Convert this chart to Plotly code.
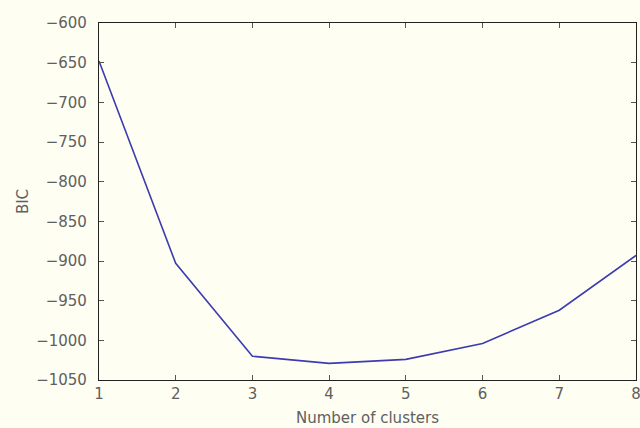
import plotly.graph_objects as go

clusters = [1, 2, 3, 4, 5, 6, 7, 8]
bic = [-648, -903, -1020, -1029, -1024, -1004, -962, -893]
y_ticks = [-600, -650, -700, -750, -800, -850, -900, -950, -1000, -1050]
x_ticks = [1, 2, 3, 4, 5, 6, 7, 8]

bg = "#fefef2"
txt = "#606060"
fig = go.Figure()
fig.add_trace(go.Scatter(x=clusters, y=bic, mode="lines",
                         line=dict(color="#3c3cb0", width=1.6),
                         showlegend=False, cliponaxis=False))
fig.update_layout(
    width=640, height=428,
    paper_bgcolor=bg, plot_bgcolor=bg,
    margin=dict(l=99, r=4, t=23, b=48, autoexpand=False),
    font=dict(family="DejaVu Sans", size=15, color=txt),
    xaxis=dict(range=[1, 8], tickvals=x_ticks, ticks="inside", ticklen=5,
               tickcolor="#555555", showline=True, linecolor="#222222",
               linewidth=1.2, mirror="ticks", showgrid=False, zeroline=False,
               automargin=False, ticklabeloverflow="allow",
               title=dict(text="Number of clusters", standoff=10,
                          font=dict(size=15, color=txt))),
    yaxis=dict(range=[-1050, -600], tickvals=y_ticks,
               ticktext=[str(v).replace("-", "\u2212") for v in y_ticks],
               ticks="inside", ticklen=5,
               tickcolor="#555555", showline=True, linecolor="#222222",
               linewidth=1.2, mirror="ticks", showgrid=False, zeroline=False,
               automargin=False, ticklabelstandoff=8,
               title=dict(text="BIC", standoff=3,
                          font=dict(size=15, color=txt))),
)
fig.write_html(
    "out.html",
    config={"displayModeBar": False},
    post_script="document.body.style.margin='0';document.body.style.background='#fefef2';",
)
